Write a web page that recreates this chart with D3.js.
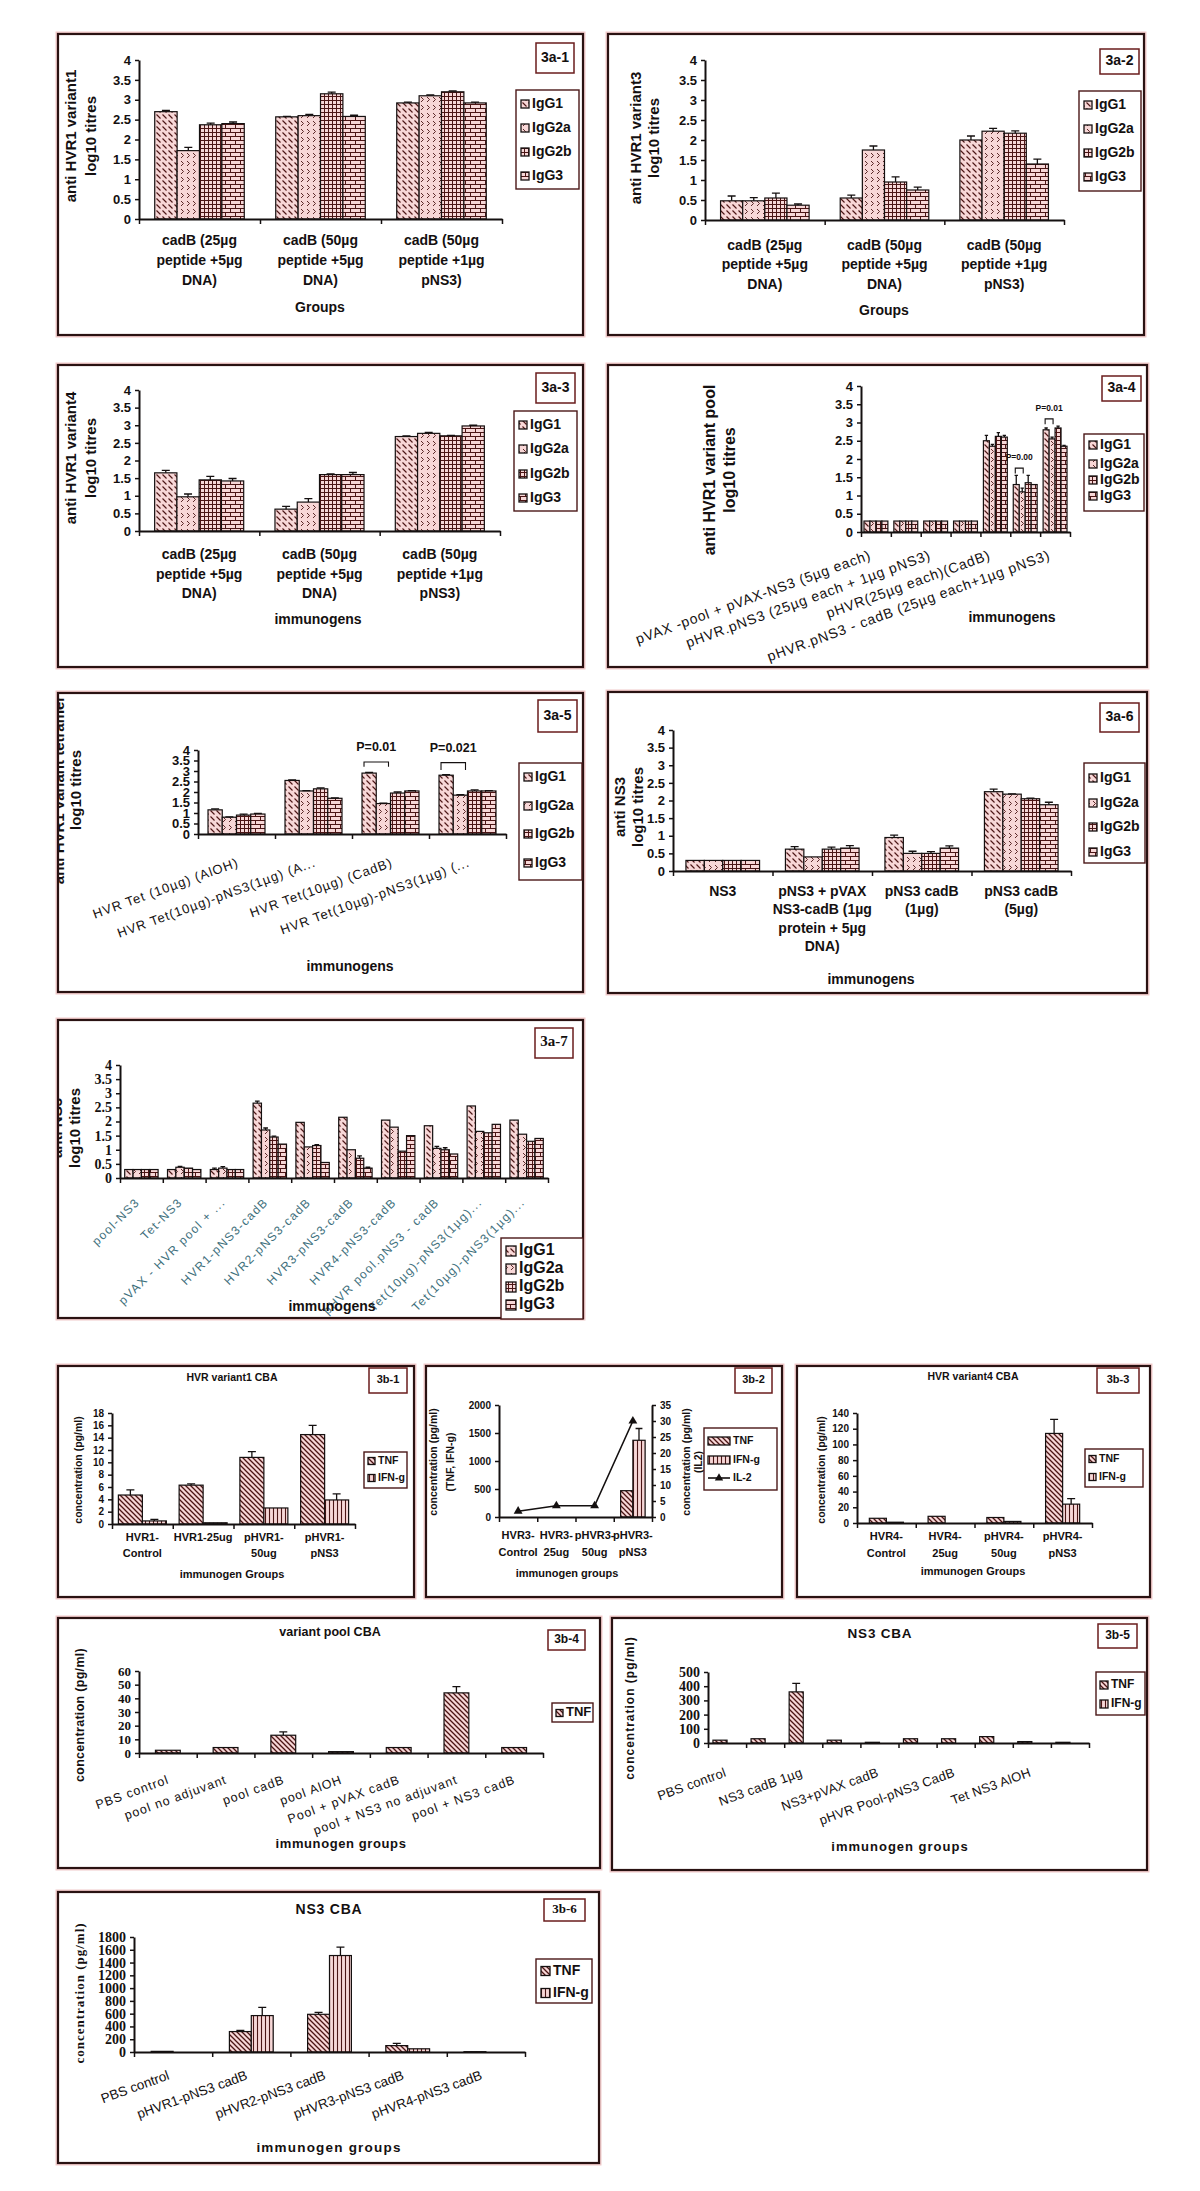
<!DOCTYPE html>
<html><head><meta charset="utf-8">
<script src="https://cdnjs.cloudflare.com/ajax/libs/d3/7.8.5/d3.min.js"></script>
<style>body{margin:0;background:#fff}svg{display:block}</style>
</head><body>
<svg id="c" width="1200" height="2191"></svg>
<script>
// ================= DATA =================
const igSeries = ["IgG1","IgG2a","IgG2b","IgG3"];
const cbaSeries = ["TNF","IFN-g"];
const titreTicks = [0,0.5,1,1.5,2,2.5,3,3.5,4];

// 3a-1
const a1Cats = ["cadB (25µg\npeptide +5µg\nDNA)","cadB (50µg\npeptide +5µg\nDNA)","cadB (50µg\npeptide +1µg\npNS3)"];
const a1Vals = [[2.7,2.57,2.92],[1.72,2.6,3.1],[2.37,3.15,3.2],[2.4,2.58,2.92]];
const a1Errs = [[0.03,0.01,0.02],[0.08,0.03,0.02],[0.04,0.04,0.02],[0.04,0.03,0.02]];
// 3a-2
const a2Cats = ["cadB (25µg\npeptide +5µg\nDNA)","cadB (50µg\npeptide +5µg\nDNA)","cadB (50µg\npeptide +1µg\npNS3)"];
const a2Vals = [[0.48,0.55,2.0],[0.48,1.75,2.22],[0.55,0.95,2.17],[0.37,0.75,1.4]];
const a2Errs = [[0.12,0.07,0.1],[0.08,0.1,0.07],[0.12,0.13,0.06],[0.03,0.07,0.12]];
// 3a-3
const a3Cats = ["cadB (25µg\npeptide +5µg\nDNA)","cadB (50µg\npeptide +5µg\nDNA)","cadB (50µg\npeptide +1µg\npNS3)"];
const a3Vals = [[1.65,0.62,2.68],[0.97,0.82,2.77],[1.45,1.6,2.7],[1.42,1.6,2.98]];
const a3Errs = [[0.07,0.08,0.02],[0.08,0.1,0.03],[0.1,0.02,0.01],[0.07,0.06,0.02]];
// 3a-4 (labels shown for every other category)
const a4Cats = ["pVAX -pool + pVAX-NS3 (5µg each)",null,"pHVR.pNS3 (25µg each + 1µg pNS3)",null,"pHVR(25µg each)(CadB)",null,"pHVR.pNS3 - cadB (25µg each+1µg pNS3)"];
const a4Vals = [[0.3,0.3,0.3,0.3,2.5,1.3,2.8],[0.3,0.3,0.3,0.3,2.35,1.1,2.55],[0.3,0.3,0.3,0.3,2.62,1.35,2.85],[0.3,0.3,0.3,0.3,2.6,1.3,2.35]];
const a4Errs = [[0,0,0,0,0.15,0.25,0.05],[0,0,0,0,0.05,0.1,0.05],[0,0,0,0,0.1,0.2,0.05],[0,0,0,0,0.05,0,0.02]];
const a4Sig = [{cat:5,top:1.75,foot:1.6,text:"P=0.00"},{cat:6,top:3.1,foot:2.95,text:"P=0.01"}];
// 3a-5
const a5Cats = ["HVR Tet (10µg) (AlOH)","HVR Tet(10µg)-pNS3(1µg) (A...","HVR Tet(10µg) (CadB)","HVR Tet(10µg)-pNS3(1µg) (..."];
const a5Vals = [[1.15,2.55,2.9,2.8],[0.8,2.05,1.45,1.85],[0.9,2.15,1.95,2.05],[0.95,1.7,2.05,2.05]];
const a5Errs = [[0.05,0.03,0.03,0.03],[0.02,0.02,0.02,0.02],[0.05,0.05,0.05,0.05],[0.03,0.02,0.02,0.02]];
const a5Sig = [{cat:2,top:3.43,foot:3.2,text:"P=0.01"},{cat:3,top:3.4,foot:3.05,text:"P=0.021"}];
// 3a-6
const a6Cats = ["NS3","pNS3 + pVAX\nNS3-cadB (1µg\nprotein + 5µg\nDNA)","pNS3 cadB\n(1µg)","pNS3 cadB\n(5µg)"];
const a6Vals = [[0.3,0.62,0.95,2.25],[0.3,0.4,0.5,2.18],[0.3,0.62,0.5,2.05],[0.3,0.65,0.65,1.88]];
const a6Errs = [[0,0.07,0.07,0.07],[0,0,0.06,0.01],[0,0.06,0.05,0.02],[0,0.07,0.06,0.07]];
// 3a-7
const a7Cats = ["pool-NS3","Tet-NS3","pVAX - HVR pool + ...","HVR1-pNS3-cadB","HVR2-pNS3-cadB","HVR3-pNS3-cadB","HVR4-pNS3-cadB","pHVR pool.pNS3 - cadB","Tet(10µg)-pNS3(1µg)...","Tet(10µg)-pNS3(1µg)..."];
const a7Vals = [[0.3,0.3,0.3,2.65,1.97,2.15,2.05,1.85,2.55,2.05],[0.3,0.38,0.35,1.7,1.1,1.0,1.8,1.05,1.65,1.55],[0.3,0.35,0.3,1.45,1.15,0.7,0.95,1.0,1.6,1.3],[0.3,0.3,0.3,1.2,0.55,0.35,1.5,0.85,1.9,1.4]];
const a7Errs = [[0,0,0.05,0.07,0,0,0,0,0,0],[0,0.03,0.05,0.07,0,0,0,0.07,0,0],[0,0,0,0.03,0.03,0.08,0,0.07,0,0],[0,0,0,0,0,0.03,0,0,0,0]];
// 3b-1
const b1Cats = ["HVR1-\nControl","HVR1-25ug","pHVR1-\n50ug","pHVR1-\npNS3"];
const b1Ticks = [0,2,4,6,8,10,12,14,16,18];
const b1Vals = [[4.7,6.3,10.8,14.5],[0.5,0.2,2.6,3.9]];
const b1Errs = [[0.85,0.2,0.95,1.5],[0.25,0,0,1.0]];
// 3b-2
const b2Cats = ["HVR3-\nControl","HVR3-\n25ug","pHVR3-\n50ug","pHVR3-\npNS3"];
const b2Ticks = [0,500,1000,1500,2000];
const b2RightTicks = [0,5,10,15,20,25,30,35];
const b2Vals = [[0,0,0,470],[0,0,0,1370]];
const b2Errs = [[0,0,0,0],[0,0,0,210]];
const b2IL2 = [1.8,3.5,3.5,30];
// 3b-3
const b3Cats = ["HVR4-\nControl","HVR4-\n25ug","pHVR4-\n50ug","pHVR4-\npNS3"];
const b3Ticks = [0,20,40,60,80,100,120,140];
const b3Vals = [[6,8.5,7,114],[1,0,2,24]];
const b3Errs = [[0,0,0,18],[0,0,0,7]];
// 3b-4
const b4Cats = ["PBS control","pool no adjuvant","pool cadB","pool AlOH","Pool + pVAX cadB","pool + NS3 no adjuvant","pool + NS3 cadB"];
const b4Ticks = [0,10,20,30,40,50,60];
const b4Vals = [[2,4,13,1,4,44,4]];
const b4Errs = [[0,0,2.5,0,0,4.5,0]];
// 3b-5 (labels shown for every other category)
const b5Cats = ["PBS control",null,"NS3 cadB 1µg",null,"NS3+pVAX cadB",null,"pHVR Pool-pNS3 CadB",null,"Tet NS3 AlOH",null];
const b5Ticks = [0,100,200,300,400,500];
const b5Vals = [[20,30,360,20,5,30,30,45,10,5],[0,0,0,0,0,0,0,0,0,0]];
const b5Errs = [[0,0,60,0,0,0,0,0,0,0],[0,0,0,0,0,0,0,0,0,0]];
// 3b-6
const b6Cats = ["PBS control","pHVR1-pNS3 cadB","pHVR2-pNS3 cadB","pHVR3-pNS3 cadB","pHVR4-pNS3 cadB"];
const b6Ticks = [0,200,400,600,800,1000,1200,1400,1600,1800];
const b6Vals = [[10,320,590,100,5],[0,570,1510,50,0]];
const b6Errs = [[0,20,30,35,0],[0,130,130,0,0]];

// ================= DRAWING =================
const SANS = "'Liberation Sans', Arial, sans-serif";
const SERIF = "'Liberation Serif', 'Times New Roman', serif";
const INK = "#141010";
const svg = d3.select("#c");
svg.append("rect").attr("width",1200).attr("height",2191).attr("fill","#fff");
const defs = svg.append("defs");
const PBG = "#f7d7d7", PLN = "#4b1515";
function mkPat(id,w,h,d,sw){
  const p = defs.append("pattern").attr("id",id).attr("patternUnits","userSpaceOnUse").attr("width",w).attr("height",h);
  p.append("rect").attr("width",w).attr("height",h).attr("fill",PBG);
  p.append("path").attr("d",d).attr("stroke",PLN).attr("stroke-width",sw).attr("fill","none");
}
mkPat("pD",6,6,"M0.5,0.5L4.5,4.5",1.1);
mkPat("pZ",6,8,"M1,1L3.5,3.5L1,6",0.9);
mkPat("pG",4,4,"M0,0.5H4M0.5,0V4",1);
mkPat("pB",10,8,"M0,0.5H10M0,4.5H10M0.5,0.5V4.5M5.5,4.5V8",1);
mkPat("pT",5,5,"M0,0L5,5M-1,4L1,6M4,-1L6,1",1.3);
mkPat("pV",4,4,"M1.5,0V4",1.1);
const igPats = ["pD","pZ","pG","pB"];
const cbaPats = ["pT","pV"];

function txt(g, x, y, s, o) {
  o = o || {};
  const t = g.append("text").attr("x",x).attr("y",y).text(s)
    .attr("font-family",o.font||SANS).attr("font-size",o.size||12)
    .attr("font-weight",o.weight||"bold").attr("fill",o.fill||INK)
    .attr("text-anchor",o.anchor||"middle").attr("dominant-baseline",o.base||"middle");
  if (o.ls) t.attr("letter-spacing",o.ls);
  if (o.transform) t.attr("transform",o.transform);
  return t;
}
const fmtTick = d => String(d);

function styleAxis(a, font, size) {
  a.select(".domain").attr("stroke",INK).attr("stroke-width",2);
  a.selectAll(".tick line").attr("stroke",INK).attr("stroke-width",1.5);
  a.selectAll(".tick text").attr("font-family",font).attr("font-size",size)
    .attr("font-weight","bold").attr("fill",INK);
}

function drawPanel(c) {
  const g = svg.append("g");
  const [fx0,fy0,fx1,fy1] = c.frame;
  g.append("rect").attr("x",fx0).attr("y",fy0).attr("width",fx1-fx0).attr("height",fy1-fy0)
    .attr("fill","#fff").attr("stroke","#f0c9c9").attr("stroke-width",5);
  g.append("rect").attr("x",fx0).attr("y",fy0).attr("width",fx1-fx0).attr("height",fy1-fy0)
    .attr("fill","#fff").attr("stroke","#2a1212").attr("stroke-width",2.2);
  const cid = "clip_"+c.id;
  defs.append("clipPath").attr("id",cid).append("rect")
    .attr("x",fx0+1).attr("y",fy0+1).attr("width",fx1-fx0-2).attr("height",fy1-fy0-2);

  const n = c.cats.length;
  const x = d3.scaleBand().domain(d3.range(n)).range([c.px0,c.px1]);
  const y = d3.scaleLinear().domain([0,c.yMax]).range([c.pyb,c.pyt]);
  const bw = x.bandwidth();
  const ns = c.vals.length;
  const sub = d3.scaleBand().domain(d3.range(ns)).range([bw*(1-c.frac)/2, bw*(1+c.frac)/2]);
  const sbw = sub.bandwidth();

  c.vals.forEach((ser,s) => {
    ser.forEach((v,i) => {
      const bx = x(i)+sub(s);
      if (v > 0) {
        g.append("rect").attr("x",bx).attr("y",y(v)).attr("width",sbw).attr("height",y(0)-y(v))
          .attr("fill",`url(#${c.pats[s]})`).attr("stroke",INK).attr("stroke-width",1.2);
      }
      const e = c.errs ? c.errs[s][i] : 0;
      if (e > 0) {
        const cx = bx+sbw/2, cap = Math.min(sbw*0.28, 4);
        g.append("path").attr("d",`M${cx},${y(v)}V${y(v+e)}M${cx-cap},${y(v+e)}H${cx+cap}`)
          .attr("stroke",INK).attr("stroke-width",1.3).attr("fill","none");
      }
    });
  });

  (c.sig||[]).forEach(sg => {
    const xa = x(sg.cat)+sub(0)+2, xb2 = x(sg.cat)+sub(1)+sbw-2;
    g.append("path").attr("d",`M${xa},${y(sg.foot)}V${y(sg.top)}H${xb2}V${y(sg.foot)}`)
      .attr("stroke",INK).attr("stroke-width",1.1).attr("fill","none");
    txt(g,(xa+xb2)/2,y(sg.top)-c.sigDy,sg.text,{size:c.sigSize});
  });

  const ya = g.append("g").attr("transform",`translate(${c.px0},0)`)
    .call(d3.axisLeft(y).tickValues(c.ticks).tickFormat(fmtTick).tickSize(4).tickPadding(c.tickPad||4).tickSizeOuter(0));
  styleAxis(ya, c.tickFont, c.tickSize);

  let y2 = null;
  if (c.right) {
    y2 = d3.scaleLinear().domain([0,c.right.max]).range([c.pyb,c.pyt]);
    const ra = g.append("g").attr("transform",`translate(${c.px1},0)`)
      .call(d3.axisRight(y2).tickValues(c.right.ticks).tickFormat(fmtTick).tickSize(4).tickPadding(4).tickSizeOuter(0));
    styleAxis(ra, c.tickFont, c.tickSize);
  }

  const xb = d3.scaleLinear().domain([0,n]).range([c.px0,c.px1]);
  const xa = g.append("g").attr("transform",`translate(0,${c.pyb})`)
    .call(d3.axisBottom(xb).tickValues(d3.range(n+1)).tickFormat("").tickSize(5).tickSizeOuter(0));
  styleAxis(xa, c.tickFont, c.tickSize);

  if (c.line) {
    const lg = d3.line().x((d,i)=>x(i)+bw/2).y(d=>y2(d));
    g.append("path").attr("d",lg(c.line)).attr("stroke",INK).attr("stroke-width",1.6).attr("fill","none");
    c.line.forEach((d,i)=>{
      g.append("path").attr("d",d3.symbol(d3.symbolTriangle).size(34)())
        .attr("transform",`translate(${x(i)+bw/2},${y2(d)})`).attr("fill",INK);
    });
  }

  const co = {font:c.catFont||SANS, size:c.catSize, weight:c.catWeight||"bold", fill:c.catFill, ls:c.catLs};
  c.cats.forEach((lab,i) => {
    if (!lab) return;
    const cx = x(i)+bw/2;
    if (c.catMode === "wrap") {
      lab.split("\n").forEach((ln,k) => txt(g,cx,c.catY[k],ln,co));
    } else {
      const ax = cx + c.rdx, ay = c.pyb + c.rdy;
      txt(g,0,0,lab,Object.assign({},co,{anchor:"end",base:"auto",transform:`translate(${ax},${ay}) rotate(${c.rot})`}));
    }
  });

  const yg = c.ylabClip ? g.append("g").attr("clip-path",`url(#${cid})`) : g;
  c.ylab.forEach((ln,k) => txt(yg,0,0,ln,{font:c.ylabFont||SANS,size:c.ylabSize,ls:c.ylabLs,
     transform:`translate(${c.ylabX[k]},${c.ylabCY}) rotate(-90)`}));
  if (c.ylab2) c.ylab2.forEach((ln,k) => txt(g,0,0,ln,{size:c.ylabSize,
     transform:`translate(${c.ylab2X[k]},${c.ylabCY}) rotate(-90)`}));

  txt(g,c.xtX,c.xtY,c.xtitle,{font:c.xtFont||SANS,size:c.xtSize,ls:c.xtLs});
  if (c.title) txt(g,c.titleX,c.titleY,c.title,{size:c.titleSize,ls:c.titleLs});

  const [lx0,ly0,lx1,ly1] = c.leg;
  g.append("rect").attr("x",lx0).attr("y",ly0).attr("width",lx1-lx0).attr("height",ly1-ly0)
    .attr("fill","#fff").attr("stroke","#4a1818").attr("stroke-width",1.4);
  c.series.forEach((name,s) => {
    const yy = c.legY[s];
    if (c.line && s === c.vals.length) {
      g.append("path").attr("d",`M${lx0+c.swX},${yy}H${lx0+c.swX+c.swW}`).attr("stroke",INK).attr("stroke-width",1.6);
      g.append("path").attr("d",d3.symbol(d3.symbolTriangle).size(30)())
        .attr("transform",`translate(${lx0+c.swX+c.swW/2},${yy})`).attr("fill",INK);
    } else {
      g.append("rect").attr("x",lx0+c.swX).attr("y",yy-c.swH/2).attr("width",c.swW).attr("height",c.swH)
        .attr("fill",`url(#${c.pats[s]})`).attr("stroke",INK).attr("stroke-width",1.3);
    }
    txt(g,lx0+c.swX+c.swW+3,yy,name,{size:c.legSize,anchor:"start"});
  });

  const [bx0,by0,bx1,by1] = c.lab;
  g.append("rect").attr("x",bx0).attr("y",by0).attr("width",bx1-bx0).attr("height",by1-by0)
    .attr("fill","#fff").attr("stroke","#6a1c1c").attr("stroke-width",1.5);
  txt(g,(bx0+bx1)/2,(by0+by1)/2,c.labText,{font:c.labFont||SANS,size:c.labSize});
}

const igCommon = {series:igSeries, pats:igPats, yMax:4, ticks:titreTicks, frac:0.74,
  tickFont:SANS, tickSize:13, ylabSize:15, xtSize:14, legSize:14, labSize:14,
  swX:5, swW:8, swH:8, catSize:14};
const cbaCommon = {series:cbaSeries, pats:cbaPats, tickFont:SANS, tickSize:10, ylabSize:10.5,
  xtSize:11, legSize:10.5, labSize:11, titleSize:10.5, swX:4, swW:7, swH:7, catSize:11};

drawPanel(Object.assign({}, igCommon, {id:"a1", frame:[58,34,583,335],
  px0:139, px1:502, pyt:60, pyb:219, cats:a1Cats, vals:a1Vals, errs:a1Errs,
  catMode:"wrap", catY:[241,261,281],
  ylab:["anti HVR1 variant1","log10 titres"], ylabX:[72,92], ylabCY:136,
  xtitle:"Groups", xtX:320, xtY:308,
  leg:[516,90,579,189], legY:[104,128,152,176], lab:[536,43,574,73], labText:"3a-1"}));
drawPanel(Object.assign({}, igCommon, {id:"a2", frame:[608,34,1144,335],
  px0:705, px1:1064, pyt:60, pyb:220, cats:a2Cats, vals:a2Vals, errs:a2Errs,
  catMode:"wrap", catY:[246,265,285],
  ylab:["anti HVR1 variant3","log10 titres"], ylabX:[637,655], ylabCY:138,
  xtitle:"Groups", xtX:884, xtY:311,
  leg:[1079,91,1141,191], legY:[105,129,153,177], lab:[1100,49,1139,74], labText:"3a-2"}));
drawPanel(Object.assign({}, igCommon, {id:"a3", frame:[58,365,583,667],
  px0:139, px1:500, pyt:390, pyb:531, cats:a3Cats, vals:a3Vals, errs:a3Errs,
  catMode:"wrap", catY:[555,575,594],
  ylab:["anti HVR1 variant4","log10 titres"], ylabX:[72,92], ylabCY:458,
  xtitle:"immunogens", xtX:318, xtY:620,
  leg:[514,411,577,511], legY:[425,449,474,498], lab:[536,373,575,403], labText:"3a-3"}));
drawPanel(Object.assign({}, igCommon, {id:"a4", frame:[608,365,1147,667],
  px0:861, px1:1070, pyt:386, pyb:532, cats:a4Cats, vals:a4Vals, errs:a4Errs, frac:0.8,
  catMode:"rot", rot:-20, rdx:-4, rdy:27, catSize:14, catWeight:"normal", catLs:0.8,
  sig:a4Sig, sigSize:8.5, sigDy:10, ylabSize:16,
  ylab:["anti HVR1 variant pool","log10 titres"], ylabX:[711,731], ylabCY:470,
  xtitle:"immunogens", xtX:1012, xtY:618,
  leg:[1084,434,1144,511], legY:[445,464,480,496], lab:[1102,376,1141,401], labText:"3a-4"}));
drawPanel(Object.assign({}, igCommon, {id:"a5", frame:[58,693,583,992],
  px0:198, px1:506, pyt:750, pyb:834, cats:a5Cats, vals:a5Vals, errs:a5Errs,
  catMode:"rot", rot:-20, rdx:3, rdy:32, catSize:13, catWeight:"normal", catLs:1,
  sig:a5Sig, sigSize:12.5, sigDy:14,
  ylab:["anti HVR1 variant tetramer","log10 titres"], ylabX:[60,77], ylabCY:790, ylabClip:true,
  xtitle:"immunogens", xtX:350, xtY:967,
  leg:[519,763,582,880], legY:[777,806,834,863], lab:[538,700,577,732], labText:"3a-5"}));
drawPanel(Object.assign({}, igCommon, {id:"a6", frame:[608,692,1147,993],
  px0:673, px1:1071, pyt:730, pyb:871, cats:a6Cats, vals:a6Vals, errs:a6Errs,
  catMode:"wrap", catY:[892,910,929,947],
  ylab:["anti NS3","log10 titres"], ylabX:[621,639], ylabCY:807,
  xtitle:"immunogens", xtX:871, xtY:980,
  leg:[1084,763,1145,863], legY:[778,803,827,852], lab:[1100,703,1139,732], labText:"3a-6"}));
drawPanel(Object.assign({}, igCommon, {id:"a7", frame:[58,1020,583,1318],
  px0:120, px1:548, pyt:1065, pyb:1178, cats:a7Cats, vals:a7Vals, errs:a7Errs, frac:0.78,
  tickFont:SERIF, tickSize:14,
  catMode:"rot", rot:-45, rdx:-1, rdy:25, catSize:12, catWeight:"normal", catFill:"#3e6f7c", catLs:1.4,
  ylab:["anti NS3","log10 titres"], ylabX:[58,76], ylabCY:1128, ylabClip:true,
  xtitle:"immunogens", xtX:332, xtY:1307,
  leg:[501,1238,583,1319], legY:[1251,1269,1287,1305], legSize:16, swW:10, swH:10,
  lab:[535,1028,573,1058], labText:"3a-7", labFont:SERIF, labSize:15}));
drawPanel(Object.assign({}, cbaCommon, {id:"b1", frame:[58,1366,414,1597],
  px0:112, px1:355, pyt:1413, pyb:1524, yMax:18, ticks:b1Ticks, cats:b1Cats, vals:b1Vals, errs:b1Errs, frac:0.79,
  catMode:"wrap", catY:[1538,1554],
  ylab:["concentration (pg/ml)"], ylabX:[79], ylabCY:1470,
  title:"HVR variant1 CBA", titleX:232, titleY:1378,
  xtitle:"immunogen Groups", xtX:232, xtY:1575,
  leg:[364,1452,407,1488], legY:[1461,1478], lab:[369,1368,407,1393], labText:"3b-1"}));
drawPanel(Object.assign({}, cbaCommon, {id:"b2", frame:[426,1366,782,1597], series:["TNF","IFN-g","IL-2"],
  px0:499, px1:652, pyt:1405, pyb:1517, yMax:2000, ticks:b2Ticks, cats:b2Cats, vals:b2Vals, errs:b2Errs, frac:0.64,
  right:{max:35, ticks:b2RightTicks}, line:b2IL2,
  catMode:"wrap", catY:[1536,1553],
  ylab:["concentration (pg/ml)","(TNF, IFN-g)"], ylabX:[434,451], ylabCY:1462,
  ylab2:["concentration (pg/ml)","(IL2)"], ylab2X:[687,699],
  xtitle:"immunogen groups", xtX:567, xtY:1574,
  leg:[704,1428,777,1490], legY:[1441,1460,1478], swW:22, swH:8,
  lab:[735,1368,772,1393], labText:"3b-2"}));
drawPanel(Object.assign({}, cbaCommon, {id:"b3", frame:[797,1366,1150,1597],
  px0:857, px1:1092, pyt:1413, pyb:1523, yMax:140, ticks:b3Ticks, cats:b3Cats, vals:b3Vals, errs:b3Errs, frac:0.58,
  catMode:"wrap", catY:[1537,1554],
  ylab:["concentration (pg/ml)"], ylabX:[822], ylabCY:1470,
  title:"HVR variant4 CBA", titleX:973, titleY:1377,
  xtitle:"immunogen Groups", xtX:973, xtY:1572,
  leg:[1085,1449,1143,1487], legY:[1459,1477], lab:[1097,1368,1139,1393], labText:"3b-3"}));
drawPanel(Object.assign({}, cbaCommon, {id:"b4", frame:[58,1618,600,1868], series:["TNF"], pats:["pT"],
  px0:139, px1:543, pyt:1671, pyb:1753, yMax:60, ticks:b4Ticks, cats:b4Cats, vals:b4Vals, errs:b4Errs, frac:0.43,
  tickFont:SERIF, tickSize:13, ylabSize:12.5, xtSize:13, legSize:13, labSize:12, titleSize:12.5,
  catMode:"rot", rot:-20, rdx:2, rdy:30, catSize:12.5, catWeight:"normal", catLs:1,
  ylab:["concentration (pg/ml)"], ylabX:[81], ylabCY:1715, ylabLs:0.3,
  title:"variant pool CBA", titleX:330, titleY:1633,
  xtitle:"immunogen groups", xtX:341, xtY:1845, xtLs:0.6,
  leg:[552,1703,593,1722], legY:[1713], swX:4, swW:7, swH:7, lab:[548,1630,585,1650], labText:"3b-4"}));
drawPanel(Object.assign({}, cbaCommon, {id:"b5", frame:[612,1618,1147,1870],
  px0:708, px1:1089, pyt:1672, pyb:1743, yMax:500, ticks:b5Ticks, cats:b5Cats, vals:b5Vals, errs:b5Errs, frac:0.74,
  tickFont:SERIF, tickSize:14, ylabSize:12, xtSize:13, legSize:12, labSize:12, titleSize:13.5,
  catMode:"rot", rot:-20, rdx:0, rdy:33, catSize:13, catWeight:"normal", catLs:0.3,
  ylab:["concentration (pg/ml)"], ylabX:[631], ylabCY:1708, ylabLs:1,
  title:"NS3 CBA", titleX:880, titleY:1634, titleLs:0.8,
  xtitle:"immunogen groups", xtX:900, xtY:1848, xtLs:1,
  leg:[1096,1672,1145,1715], legY:[1685,1704], swX:4, swW:8, swH:8, lab:[1098,1624,1137,1648], labText:"3b-5"}));
drawPanel(Object.assign({}, cbaCommon, {id:"b6", frame:[58,1892,599,2163],
  px0:134, px1:525, pyt:1937, pyb:2052, yMax:1800, ticks:b6Ticks, cats:b6Cats, vals:b6Vals, errs:b6Errs, frac:0.56,
  tickFont:SERIF, tickSize:14, ylabSize:13, ylabFont:SERIF, xtSize:13.5, legSize:14, labSize:13, labFont:SERIF, titleSize:14,
  catMode:"rot", rot:-20, rdx:-3, rdy:27, catSize:13.5, catWeight:"normal",
  ylab:["concentration (pg/ml)"], ylabX:[81], ylabCY:1993, ylabLs:1,
  title:"NS3 CBA", titleX:329, titleY:1910, titleLs:0.8,
  xtitle:"immunogen groups", xtX:329, xtY:2148, xtLs:1.2,
  leg:[536,1959,592,2003], legY:[1971,1993], swX:5, swW:9, swH:9, lab:[544,1899,585,1921], labText:"3b-6"}));
</script>
</body></html>
